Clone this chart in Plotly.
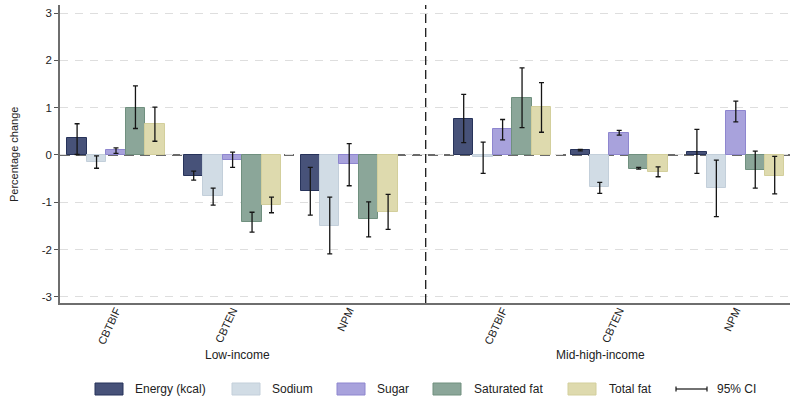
import plotly.graph_objects as go

# ---------------- data ----------------
categories = ["CBTBIF", "CBTEN", "NPM"]
income_groups = ["Low-income", "Mid-high-income"]
nutrients = ["Energy (kcal)", "Sodium", "Sugar", "Saturated fat", "Total fat"]

# order: Low-income CBTBIF, CBTEN, NPM, Mid-high-income CBTBIF, CBTEN, NPM
energy = [0.35, -0.44, -0.76, 0.77, 0.10, 0.07]
energy_lo = [0.01, -0.53, -1.27, 0.26, 0.085, -0.39]
energy_hi = [0.66, -0.34, -0.26, 1.28, 0.12, 0.54]

sodium = [-0.14, -0.87, -1.50, -0.05, -0.68, -0.70]
sodium_lo = [-0.28, -1.06, -2.09, -0.39, -0.81, -1.30]
sodium_hi = [-0.02, -0.70, -0.89, 0.27, -0.58, -0.11]

sugar = [0.10, -0.10, -0.20, 0.54, 0.47, 0.92]
sugar_lo = [0.035, -0.26, -0.65, 0.32, 0.42, 0.70]
sugar_hi = [0.15, 0.06, 0.24, 0.75, 0.52, 1.14]

satfat = [1.00, -1.41, -1.36, 1.20, -0.29, -0.31]
satfat_lo = [0.56, -1.63, -1.73, 0.58, -0.30, -0.70]
satfat_hi = [1.46, -1.21, -0.99, 1.84, -0.26, 0.08]

totfat = [0.65, -1.06, -1.20, 1.01, -0.35, -0.44]
totfat_lo = [0.29, -1.22, -1.57, 0.48, -0.46, -0.82]
totfat_hi = [1.01, -0.89, -0.83, 1.53, -0.25, -0.03]

y_ticks = [-3, -2, -1, 0, 1, 2, 3]
ci_label = "95% CI"
y_title = "Percentage change"

# ---------------- styling / layout ----------------
fills = ["#475279", "#d1dce5", "#a8a2dc", "#8ba699", "#dedaae"]
borders = ["#27335a", "#c3cfda", "#8e86cf", "#70907f", "#d3cf9c"]

W, H = 790, 396
ML, MR, MT, MB = 60, 0, 5, 93
PW = W - ML - MR
PH = H - MT - MB

bar_w = 19.45
group_x = [56.0, 172.6, 289.2, 442.6, 559.2, 675.8]   # px positions inside plot
divider_x = 365.7
panel_label_x = [237, 600]   # absolute px

series = [
    (energy, energy_lo, energy_hi),
    (sodium, sodium_lo, sodium_hi),
    (sugar, sugar_lo, sugar_hi),
    (satfat, satfat_lo, satfat_hi),
    (totfat, totfat_lo, totfat_hi),
]

fig = go.Figure()
for k, (name, (vals, lo, hi)) in enumerate(zip(nutrients, series)):
    xs = [g + (k - 2) * bar_w for g in group_x]
    fig.add_trace(go.Bar(
        x=xs, y=vals, width=bar_w, name=name,
        marker=dict(color=fills[k], line=dict(color=borders[k], width=1)),
        error_y=dict(type="data", symmetric=False,
                     array=[h - v for h, v in zip(hi, vals)],
                     arrayminus=[v - l for v, l in zip(vals, lo)],
                     color="#151515", thickness=1.3, width=2.5),
        showlegend=False, hoverinfo="skip",
    ))

font_family = "Liberation Sans, Arial, sans-serif"
yrange = [-3.127, 3.169]

fig.update_layout(
    width=W, height=H,
    margin=dict(l=ML, r=MR, t=MT, b=MB, autoexpand=False),
    plot_bgcolor="white", paper_bgcolor="white",
    barmode="overlay", bargap=0,
    font=dict(family=font_family, size=11, color="#222"),
    xaxis=dict(
        range=[0, PW], tickmode="array",
        tickvals=group_x, ticktext=categories * 2,
        tickangle=-65, ticks="", showgrid=False, zeroline=False,
        showline=True, linecolor="#6e6e6e", linewidth=2,
        tickfont=dict(size=11, color="#222"), automargin=False,
        ticklabelstandoff=-5,
    ),
    yaxis=dict(
        range=yrange, tickmode="array", tickvals=y_ticks,
        ticktext=[str(t) for t in y_ticks],
        ticks="outside", ticklen=4, tickcolor="#555",
        showgrid=True, gridcolor="#dedede", griddash="8px,7px", gridwidth=1.3,
        zeroline=False, showline=True, linecolor="#6e6e6e", linewidth=1.5,
        tickfont=dict(size=11.5, color="#222"), automargin=False,
    ),
)

# zero line
fig.add_shape(type="line", xref="paper", yref="y", x0=0, x1=1, y0=0, y1=0,
              line=dict(color="#3a3a3a", width=1.5, dash="10px,6px"), layer="below")
# panel divider
fig.add_shape(type="line", xref="x", yref="paper", x0=divider_x, x1=divider_x, y0=0, y1=1,
              line=dict(color="#1a1a1a", width=1.3, dash="9px,5px"), layer="above")

def px_to_paper_x(px):
    return (px - ML) / PW

def px_to_paper_y(py):
    return (H - MB - py) / PH

# y axis title
fig.add_annotation(text=y_title, x=px_to_paper_x(14), y=px_to_paper_y(155),
                   xref="paper", yref="paper", showarrow=False, textangle=-90,
                   xanchor="center", yanchor="middle",
                   font=dict(size=11, color="#222222"))

# panel labels
for lbl, px in zip(income_groups, panel_label_x):
    fig.add_annotation(text=lbl, x=px_to_paper_x(px), y=px_to_paper_y(355),
                       xref="paper", yref="paper", showarrow=False,
                       xanchor="center", yanchor="middle",
                       font=dict(size=12, color="#222"))

# legend (manual)
leg_sw_x = [95, 232, 337, 433, 568]
leg_txt_x = [133, 270, 375, 472, 607]
sw_w = 28
ly0, ly1, lyc = 383, 395, 389
for k, name in enumerate(nutrients):
    fig.add_shape(type="rect", xref="paper", yref="paper",
                  x0=px_to_paper_x(leg_sw_x[k]), x1=px_to_paper_x(leg_sw_x[k] + sw_w),
                  y0=px_to_paper_y(ly1), y1=px_to_paper_y(ly0),
                  fillcolor=fills[k], line=dict(color=borders[k], width=1))
    fig.add_annotation(text=name, x=px_to_paper_x(leg_txt_x[k]), y=px_to_paper_y(lyc),
                       xref="paper", yref="paper", showarrow=False,
                       xanchor="left", yanchor="middle",
                       font=dict(size=12, color="#222"))
# CI legend entry
cx0, cx1 = 676, 707
fig.add_shape(type="line", xref="paper", yref="paper",
              x0=px_to_paper_x(cx0), x1=px_to_paper_x(cx1),
              y0=px_to_paper_y(lyc), y1=px_to_paper_y(lyc),
              line=dict(color="#151515", width=1.2))
for cx in (cx0, cx1):
    fig.add_shape(type="line", xref="paper", yref="paper",
                  x0=px_to_paper_x(cx), x1=px_to_paper_x(cx),
                  y0=px_to_paper_y(lyc - 2.5), y1=px_to_paper_y(lyc + 2.5),
                  line=dict(color="#151515", width=1.2))
fig.add_annotation(text=ci_label, x=px_to_paper_x(715), y=px_to_paper_y(lyc),
                   xref="paper", yref="paper", showarrow=False,
                   xanchor="left", yanchor="middle",
                   font=dict(size=12, color="#222"))

fig.write_html("out.html",
               config={"displayModeBar": False},
               post_script="document.body.style.margin='0px';document.body.style.padding='0px';")
